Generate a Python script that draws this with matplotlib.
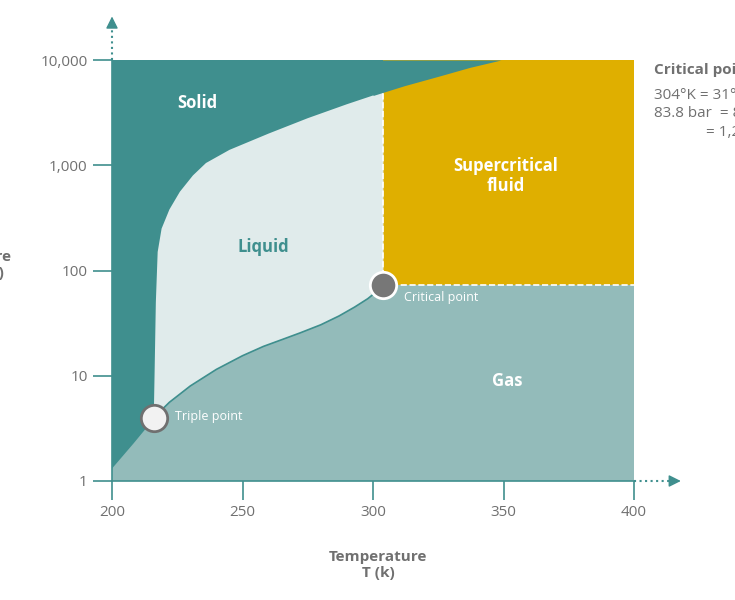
import numpy as np
import matplotlib.pyplot as plt
from matplotlib.ticker import FixedLocator, NullLocator

plt.rcParams['font.family'] = ['Open Sans', 'DejaVu Sans']

# phase boundaries (T in K, P in bar)
melt_T = [216, 216.3, 216.8, 217.5, 219, 222, 226, 231, 236, 245, 260, 275, 290, 300, 312, 325, 337, 349, 400]
melt_P = [4, 10, 50, 150, 250, 380, 560, 800, 1050, 1400, 2000, 2800, 3800, 4600, 5700, 7000, 8500, 10000, 10000]
vap_T = [216, 222, 230, 240, 250, 258, 265, 272, 280, 287, 293, 298, 301, 304]
vap_P = [4, 5.6, 8, 11.5, 15.5, 19, 22, 25.5, 30.5, 37, 45, 54, 62, 73]
sub_T = [200, 208, 216]
sub_P = [1.35, 2.3, 4]
crit = (304, 73)
triple = (216, 4)
xticks = [200, 250, 300, 350, 400]
yticks = [1, 10, 100, 1000, 10000]
ytick_labels = ['1', '10', '100', '1,000', '10,000']

teal = '#3F8F8E'
liquid_c = '#E0EBEB'
gas_c = '#93BBBA'
yellow = '#DFAF00'
grey = '#707070'

fig = plt.figure(figsize=(7.35, 6), dpi=100)
ax = fig.add_axes([112/735, 1-481/600, 522/735, 421/600])
ax.set_yscale('log')
ax.set_xlim(200, 400)
ax.set_ylim(1, 10000)
ax.set_facecolor(teal)

# supercritical
ax.fill([crit[0], 400, 400, crit[0]], [crit[1], crit[1], 10000, 10000], color=yellow, lw=0)
# liquid
mT = [t for t in melt_T if t <= crit[0]]
mP = [p for t, p in zip(melt_T, melt_P) if t <= crit[0]]
liq_T = mT + [crit[0]] + vap_T[::-1]
liq_P = mP + [np.interp(crit[0], melt_T, melt_P)] + vap_P[::-1]
ax.fill(liq_T, liq_P, color=liquid_c, lw=0)
# gas
gas_T = sub_T + vap_T[1:] + [400, 400, 200]
gas_P = sub_P + vap_P[1:] + [crit[1], 1, 1]
ax.fill(gas_T, gas_P, color=gas_c, lw=0)
# solid over supercritical
i0 = melt_T.index(300)
ax.fill_between(melt_T[i0:], melt_P[i0:], 10000, color=teal, lw=0)
ax.plot(vap_T, vap_P, color=teal, lw=1.2)
ax.plot(sub_T, sub_P, color=teal, lw=1.2)

# dashed borders
ax.plot([crit[0], crit[0]], [crit[1], np.interp(crit[0], melt_T, melt_P)], color='white', ls='--', lw=1.2)
ax.plot([crit[0], 400], [crit[1], crit[1]], color='white', ls='--', lw=1.2)

ax.plot(*crit, 'o', ms=19, mfc='#777777', mec='white', mew=2, zorder=5, clip_on=False)
ax.plot(*triple, 'o', ms=19, mfc='#F2F2F2', mec=grey, mew=2, zorder=5, clip_on=False)

ax.text(232.6, 3900, 'Solid', color='white', weight='bold', fontsize=12, ha='center', va='center')
ax.text(258, 167, 'Liquid', color=teal, weight='bold', fontsize=12, ha='center', va='center')
ax.text(351, 790, 'Supercritical\nfluid', color='white', weight='bold', fontsize=12, ha='center', va='center')
ax.text(351.5, 9, 'Gas', color='white', weight='bold', fontsize=12, ha='center', va='center')
ax.text(312, 56, 'Critical point', color='white', fontsize=9, ha='left', va='center')
ax.text(224, 4.1, 'Triple point', color='white', fontsize=9, ha='left', va='center')

ax.xaxis.set_major_locator(FixedLocator(xticks))
ax.yaxis.set_major_locator(FixedLocator(yticks))
ax.yaxis.set_minor_locator(NullLocator())
ax.set_yticklabels(ytick_labels)
ax.tick_params(colors=teal, labelcolor=grey, labelsize=11, length=14, width=1.2)
for s in ['top', 'right']:
    ax.spines[s].set_visible(False)
for s in ['left', 'bottom']:
    ax.spines[s].set_color(teal)
    ax.spines[s].set_linewidth(1.2)

# axis arrows
ax.plot([1, 1.07], [0, 0], transform=ax.transAxes, color=teal, ls=':', lw=1.5, clip_on=False)
ax.annotate('', xy=(1.095, 0), xytext=(1.07, 0), xycoords='axes fraction',
            arrowprops=dict(arrowstyle='-|>', color=teal, lw=1, mutation_scale=18))
ax.plot([0, 0], [1, 1.08], transform=ax.transAxes, color=teal, ls=':', lw=1.5, clip_on=False)
ax.annotate('', xy=(0, 1.11), xytext=(0, 1.08), xycoords='axes fraction',
            arrowprops=dict(arrowstyle='-|>', color=teal, lw=1, mutation_scale=18))

fig.text(378/735, 1-565/600, 'Temperature\nT (k)', color=grey, weight='bold', fontsize=11,
         ha='center', va='center', multialignment='center')
fig.text(12/735, 1-265/600, 'Pressure\nP (bar)', color=grey, weight='bold', fontsize=11,
         ha='right', va='center', multialignment='center')
fig.text(654/735, 1-70/600, 'Critical point', color=grey, weight='bold', fontsize=11, va='center')
fig.text(654/735, 1-88/600, '304°K = 31°C\n83.8 bar  = 82.7 atm\n             = 1,215 psi',
         color=grey, fontsize=11, va='top', linespacing=1.3)

fig.savefig('out.png', dpi=100)
